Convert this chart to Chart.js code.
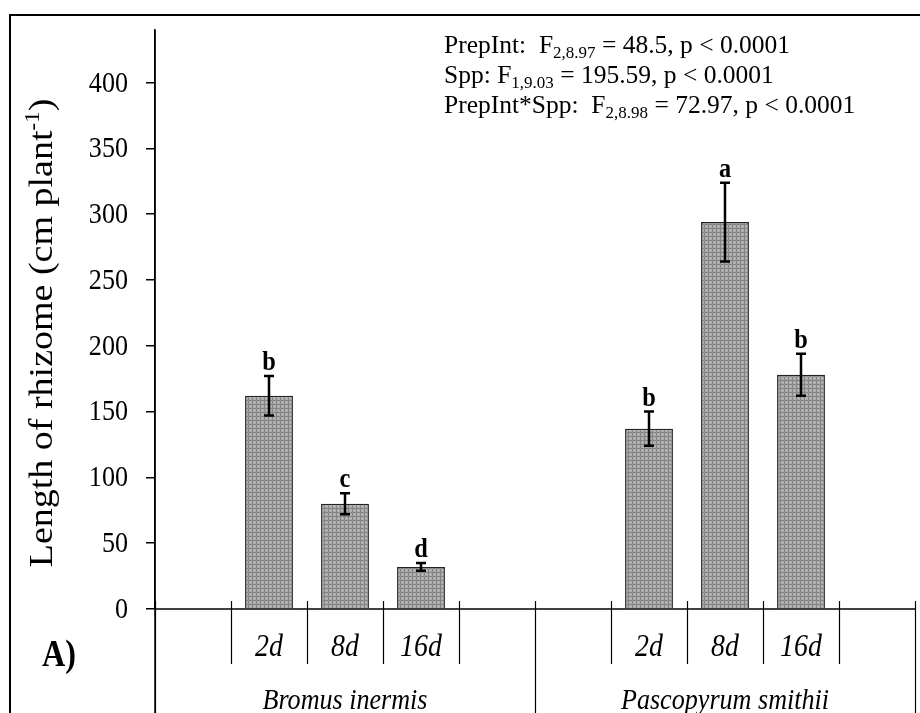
<!DOCTYPE html>
<html><head><meta charset="utf-8">
<script src="https://cdn.jsdelivr.net/npm/chart.js@4"></script>
<style>html,body{margin:0;padding:0;background:#fff}#wrap{width:920px;height:713px;position:relative}</style>
</head><body><div id="wrap"><canvas id="c" width="920" height="713"></canvas></div>
<script>
// ---- data ----
const species = ['Bromus inermis', 'Pascopyrum smithii'];
const categories = ['', '2d', '8d', '16d', '', '', '2d', '8d', '16d', ''];
const rhizomeLength = [null, 162, 80, 32, null, null, 137, 294, 178, null];
const stdError = [null, 15, 8, 3, null, null, 13, 30, 16, null];
const letters = ['', 'b', 'c', 'd', '', '', 'b', 'a', 'b', ''];
const yAxisTitle = ['Length of rhizome (cm plant', '-1', ')'];
const statsLines = [
  ['PrepInt:  F', '2,8.97', ' = 48.5, p < 0.0001'],
  ['Spp: F', '1,9.03', ' = 195.59, p < 0.0001'],
  ['PrepInt*Spp:  F', '2,8.98', ' = 72.97, p < 0.0001']
];
const panelLabel = 'A)';

const SERIF = '"Liberation Serif", "Times New Roman", serif';
const SQ = 0.87; // horizontal condensing of the reference lettering

function makePattern() {
  const t = document.createElement('canvas');
  t.width = 4; t.height = 4;
  const g = t.getContext('2d');
  g.fillStyle = '#ababab'; g.fillRect(0, 0, 4, 4);
  g.fillStyle = '#858585'; g.fillRect(0, 0, 4, 1); g.fillRect(0, 0, 1, 4);
  g.fillStyle = '#c4c4c4'; g.fillRect(2, 2, 1, 1);
  return document.getElementById('c').getContext('2d').createPattern(t, 'repeat');
}

function txt(ctx, s, x, y, font, align, base, sq) {
  ctx.save();
  ctx.translate(x, y);
  ctx.scale(sq, 1);
  ctx.font = font;
  ctx.textAlign = align;
  ctx.textBaseline = base;
  ctx.fillStyle = '#000';
  ctx.fillText(s, 0, 0);
  ctx.restore();
}

const decor = {
  id: 'decor',
  afterDatasetsDraw(chart) {
    const ctx = chart.ctx, x = chart.scales.x, y = chart.scales.y;
    const ca = chart.chartArea;
    const n = categories.length;
    const centers = categories.map((_, i) => x.getPixelForValue(i));
    const bounds = [ca.left];
    for (let i = 0; i < n - 1; i++) bounds.push((centers[i] + centers[i + 1]) / 2);
    bounds.push(ca.right);
    const y0 = y.getPixelForValue(0);
    ctx.save();
    ctx.strokeStyle = '#000';
    // error bars + letters
    ctx.lineWidth = 2.5;
    rhizomeLength.forEach((v, i) => {
      if (v == null) return;
      const cx = centers[i];
      const yt = y.getPixelForValue(v + stdError[i]);
      const yb = y.getPixelForValue(v - stdError[i]);
      ctx.beginPath();
      ctx.moveTo(cx, yt); ctx.lineTo(cx, yb);
      ctx.moveTo(cx - 5, yt); ctx.lineTo(cx + 5, yt);
      ctx.moveTo(cx - 5, yb); ctx.lineTo(cx + 5, yb);
      ctx.stroke();
      txt(ctx, letters[i], cx, yt - 6, 'bold 28px ' + SERIF, 'center', 'alphabetic', SQ);
    });
    // y tick labels from the library's ticks
    y.ticks.forEach(t => {
      txt(ctx, String(t.value), ca.left - 27, y.getPixelForValue(t.value) + 1,
          '30px ' + SERIF, 'right', 'middle', SQ);
    });
    // x axis line
    ctx.lineWidth = 1.5;
    ctx.beginPath();
    ctx.moveTo(ca.left, y0); ctx.lineTo(ca.right, y0);
    ctx.stroke();
    // category dividers
    const groupIdx = [0, n / 2, n];
    ctx.lineWidth = 1.2;
    bounds.forEach((bx, k) => {
      const isGroup = groupIdx.includes(k);
      ctx.beginPath();
      ctx.moveTo(Math.round(bx) + 0.5, y0 - 8);
      ctx.lineTo(Math.round(bx) + 0.5, isGroup ? chart.height : y0 + 55);
      ctx.stroke();
    });
    // category labels
    categories.forEach((c, i) => {
      if (c) txt(ctx, c, centers[i], y0 + 39, 'italic 32px ' + SERIF, 'center', 'middle', SQ);
    });
    species.forEach((s, g) => {
      const l = bounds[g * n / 2], r = bounds[(g + 1) * n / 2];
      txt(ctx, s, (l + r) / 2, y0 + 92, 'italic 30px ' + SERIF, 'center', 'middle', SQ);
    });
    txt(ctx, panelLabel, 59, y0 + 47, 'bold 37px ' + SERIF, 'center', 'middle', SQ);
    // stats text
    statsLines.forEach((parts, k) => {
      let px = 444;
      const by = 53 + k * 30;
      ctx.fillStyle = '#000';
      ctx.textAlign = 'left';
      ctx.textBaseline = 'alphabetic';
      ctx.font = '25.5px ' + SERIF;
      ctx.fillText(parts[0], px, by); px += ctx.measureText(parts[0]).width;
      ctx.font = '17px ' + SERIF;
      ctx.fillText(parts[1], px, by + 5); px += ctx.measureText(parts[1]).width;
      ctx.font = '25.5px ' + SERIF;
      ctx.fillText(parts[2], px, by);
    });
    // y title (rotated, condensed across its height)
    ctx.save();
    ctx.translate(52, 333);
    ctx.rotate(-Math.PI / 2);
    ctx.scale(1, SQ);
    ctx.fillStyle = '#000';
    ctx.textBaseline = 'alphabetic';
    ctx.textAlign = 'left';
    const big = '38px ' + SERIF, sm = '23px ' + SERIF;
    ctx.font = big; const w0 = ctx.measureText(yAxisTitle[0]).width;
    ctx.font = sm; const w1 = ctx.measureText(yAxisTitle[1]).width;
    ctx.font = big; const w2 = ctx.measureText(yAxisTitle[2]).width;
    let tx = -(w0 + w1 + w2) / 2;
    ctx.fillText(yAxisTitle[0], tx, 0); tx += w0;
    ctx.font = sm; ctx.fillText(yAxisTitle[1], tx, -15); tx += w1;
    ctx.font = big; ctx.fillText(yAxisTitle[2], tx, 0);
    ctx.restore();
    // y axis extension below
    ctx.lineWidth = 1.5;
    ctx.beginPath();
    ctx.moveTo(ca.left, ca.top); ctx.lineTo(ca.left, chart.height);
    ctx.stroke();
    // outer frame
    ctx.lineWidth = 2;
    ctx.beginPath();
    ctx.moveTo(10, chart.height); ctx.lineTo(10, 15); ctx.lineTo(chart.width, 15);
    ctx.stroke();
    ctx.restore();
  }
};

new Chart(document.getElementById('c'), {
  type: 'bar',
  data: {
    labels: categories,
    datasets: [{
      data: rhizomeLength,
      backgroundColor: makePattern(),
      borderColor: '#222',
      borderWidth: 1.5,
      borderSkipped: 'bottom',
      categoryPercentage: 1,
      barPercentage: 0.63
    }]
  },
  options: {
    responsive: false,
    animation: false,
    devicePixelRatio: 1,
    layout: { padding: { top: 30, right: 5, bottom: 104, left: 0 } },
    plugins: { legend: { display: false }, tooltip: { enabled: false } },
    scales: {
      x: { display: false },
      y: {
        min: 0, max: 440,
        afterFit(s) { s.width = 155; },
        ticks: { stepSize: 50, includeBounds: false, display: false },
        grid: { drawOnChartArea: false, drawTicks: true, tickLength: 9, color: '#000', lineWidth: 1.5 },
        border: { display: true, color: '#000', width: 1.5 }
      }
    }
  },
  plugins: [decor]
});
</script></body></html>
